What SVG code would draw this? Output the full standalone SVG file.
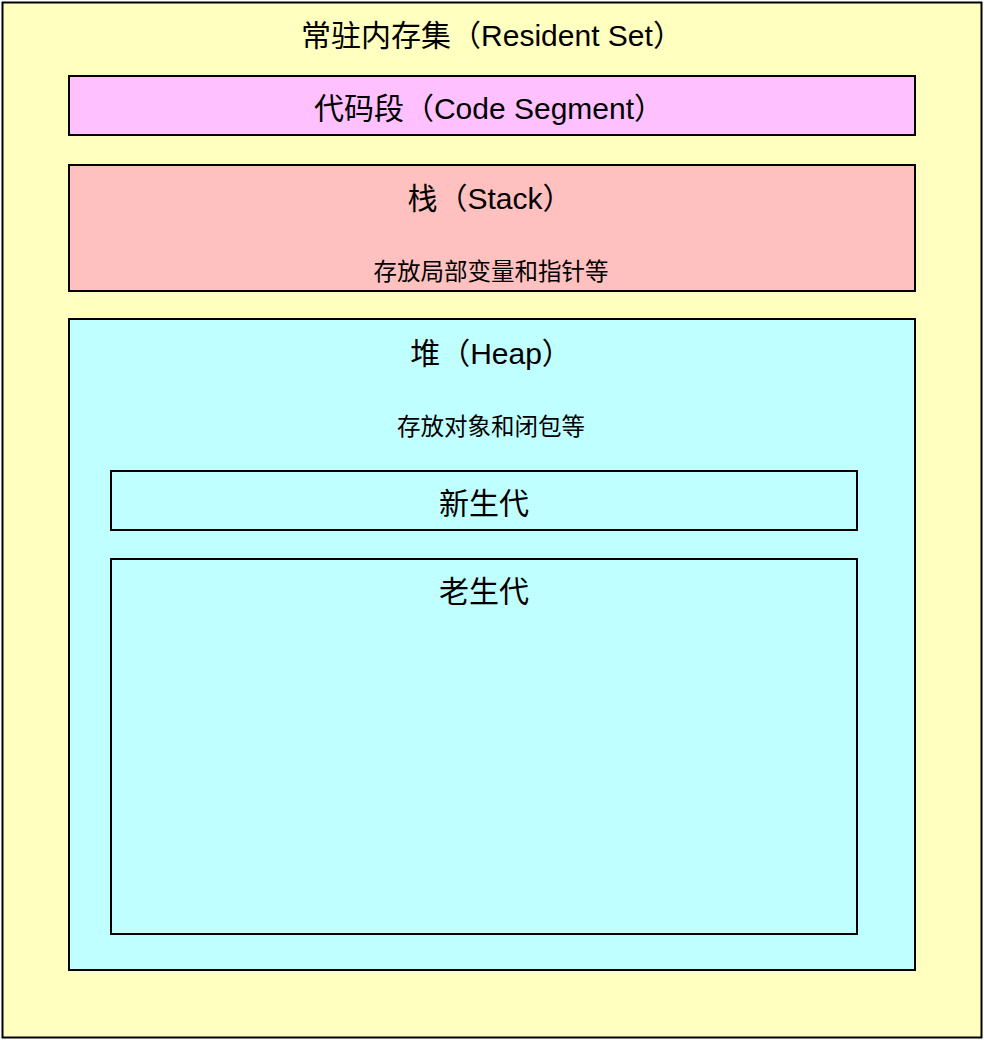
<svg xmlns="http://www.w3.org/2000/svg" width="984" height="1040" viewBox="0 0 984 1040">
<style>
rect{stroke:#000;stroke-width:2}
text{font-family:"Liberation Sans","Noto Sans CJK SC",sans-serif;fill:#000;text-anchor:middle;dominant-baseline:central}
.t{font-size:30px}
.s{font-size:23.5px}
</style>
<g id="resident-set">
<rect x="2.5" y="2.5" width="979" height="1035" fill="#FFFFC0"/>
<text class="t" x="492" y="35">常驻内存集（Resident Set）</text>
</g>
<g id="code-segment">
<rect x="69" y="76" width="846" height="59" fill="#FFC0FF"/>
<text class="t" x="489" y="108">代码段（Code Segment）</text>
</g>
<g id="stack">
<rect x="69" y="165" width="846" height="126" fill="#FFC0C0"/>
<text class="t" x="490" y="198">栈（Stack）</text>
<text class="s" x="491" y="272">存放局部变量和指针等</text>
</g>
<g id="heap">
<rect x="69" y="319" width="846" height="651" fill="#C0FFFF"/>
<text class="t" x="491" y="353">堆（Heap）</text>
<text class="s" x="491" y="427">存放对象和闭包等</text>
</g>
<g id="new-gen">
<rect x="111" y="471" width="746" height="59" fill="#C0FFFF"/>
<text class="t" x="484" y="503">新生代</text>
</g>
<g id="old-gen">
<rect x="111" y="559" width="746" height="375" fill="#C0FFFF"/>
<text class="t" x="484" y="591">老生代</text>
</g>
<g id="connectors"/>
</svg>
